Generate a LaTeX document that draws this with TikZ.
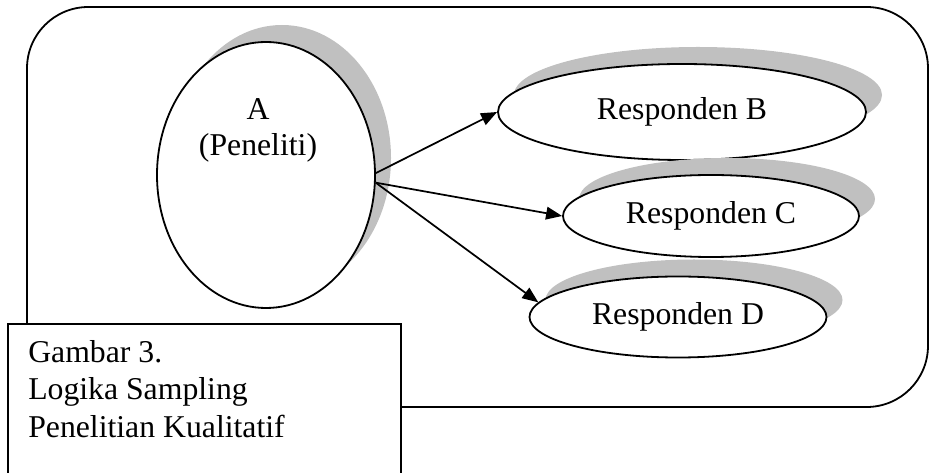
\documentclass[tikz,border=0pt]{standalone}
\usepackage{fontspec}
\setmainfont{Liberation Serif}
\usetikzlibrary{shapes.geometric,arrows.meta,shadows}

\definecolor{shgray}{RGB}{192,192,192}

\tikzset{
  outline/.style={draw=black, line width=1.35pt},
  oval/.style={outline, ellipse, fill=white, inner sep=0pt,
    drop shadow={shadow xshift=12pt, shadow yshift=12.75pt, fill=shgray, opacity=1}},
  label text/.style={font=\fontsize{23.8}{27}\selectfont, inner sep=0pt},
  link/.style={line width=1.3pt, -{Triangle[length=12pt,width=9.5pt]}},
}

\begin{document}
\begin{tikzpicture}[x=0.75pt, y=-0.75pt]
  \clip (0,0) rectangle (931,473);

  % outer frame
  \draw[outline, rounded corners=46pt] (27,7) rectangle (928,407);

  % researcher
  \node[oval, minimum width=163.5pt, minimum height=199.5pt] (A) at (266,175) {};
  \node[label text, anchor=base] (tA1) at (258,120) {A};
  \node[label text, anchor=base] (tA2) at (258,156) {(Peneliti)};

  % respondents
  \node[oval, label text, minimum width=276pt, minimum height=72pt] (B) at (682,112) {Responden B};
  \node[oval, label text, minimum width=222pt, minimum height=61.5pt] (C) at (711,216) {Responden C};
  \node[oval, label text, minimum width=222.75pt, minimum height=60.75pt] (D) at (678,317) {Responden D};

  % sampling links
  \draw[link] (A.1) -- (B.west);
  \draw[link] (A.-4) -- (C.west);
  \draw[link] (A.-4) -- (D.174);

  % caption box
  \draw[outline, fill=white] (8,324) rectangle (401,490);
  \node[label text, anchor=base west] (cap1) at (28,363) {Gambar 3.};
  \node[label text, anchor=base west] (cap2) at (28,400) {Logika Sampling};
  \node[label text, anchor=base west] (cap3) at (28,437) {Penelitian Kualitatif};
\end{tikzpicture}
\end{document}
